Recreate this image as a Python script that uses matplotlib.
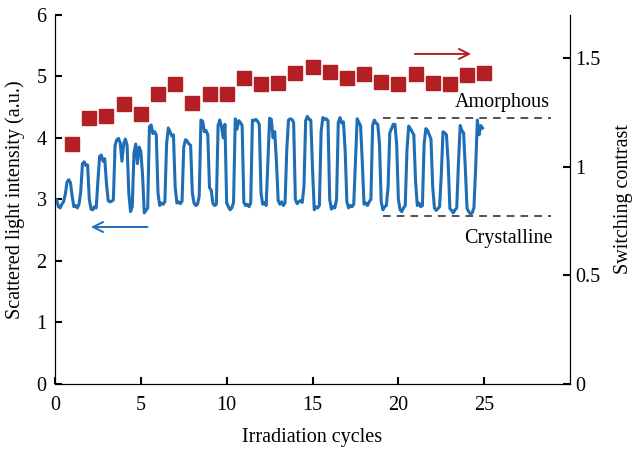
import numpy as np
import matplotlib
matplotlib.use("Agg")
import matplotlib.pyplot as plt

plt.rcParams['font.family'] = ['Liberation Serif', 'DejaVu Serif']

# switching contrast per irradiation cycle (right axis)
cycles = [1, 2, 3, 4, 5, 6, 7, 8, 9, 10, 11, 12, 13, 14, 15, 16, 17, 18, 19, 20, 21, 22, 23, 24, 25]
contrast = [1.105, 1.227, 1.234, 1.289, 1.243, 1.335, 1.381, 1.294, 1.335, 1.336,
            1.409, 1.381, 1.386, 1.432, 1.462, 1.439, 1.409, 1.429, 1.390, 1.382,
            1.429, 1.387, 1.382, 1.421, 1.432]

# scattered light intensity, sampled every 0.1 cycle from 0.1 to 24.9 (left axis)
intensity = [
    2.99, 2.88, 2.86, 2.92, 2.96, 3.08, 3.28, 3.32, 3.27,
    3.05, 2.88, 2.90, 2.86, 2.92, 3.12, 3.58, 3.61, 3.55, 3.56,
    3.00, 2.84, 2.83, 2.88, 2.86, 3.30, 3.70, 3.72, 3.62, 3.66,
    3.25, 2.98, 2.96, 2.97, 2.99, 3.88, 3.97, 3.99, 3.92, 3.62,
    3.90, 3.98, 3.88, 3.10, 2.80, 2.88, 3.75, 3.90, 3.58, 3.85,
    3.78, 3.40, 2.78, 2.82, 2.86, 4.18, 4.21, 4.07, 4.10, 4.05,
    3.10, 2.90, 2.94, 2.92, 2.96, 3.90, 4.16, 4.10, 4.03, 4.05,
    3.20, 2.94, 2.96, 2.93, 2.97, 3.85, 3.97, 3.95, 3.90, 3.88,
    3.10, 2.94, 2.90, 2.92, 3.05, 4.29, 4.27, 4.10, 4.12, 4.05,
    3.19, 3.15, 2.93, 2.90, 2.92, 4.20, 4.29, 4.18, 4.00, 4.22,
    2.94, 2.88, 2.83, 2.86, 2.95, 4.31, 4.14, 4.28, 4.25, 4.20,
    2.95, 2.90, 2.92, 2.88, 2.94, 4.29, 4.28, 4.30, 4.27, 4.22,
    3.10, 2.92, 2.95, 2.90, 3.60, 4.32, 4.30, 4.00, 4.10, 3.60,
    2.98, 2.92, 2.96, 2.90, 2.94, 3.80, 4.29, 4.31, 4.30, 4.25,
    3.00, 2.93, 2.96, 2.98, 2.95, 3.20, 4.28, 4.35, 4.30, 4.29,
    3.50, 2.83, 2.88, 2.86, 2.90, 4.10, 4.33, 4.30, 4.31, 4.28,
    3.00, 2.84, 2.88, 2.86, 3.00, 4.25, 4.33, 4.24, 4.26, 3.80,
    2.96, 2.86, 2.90, 2.88, 2.92, 3.60, 4.31, 4.25, 4.20, 3.60,
    2.92, 2.94, 2.90, 2.96, 3.00, 4.20, 4.29, 4.24, 4.22, 3.90,
    2.96, 2.83, 2.88, 2.90, 3.20, 4.08, 4.15, 4.22, 4.22, 3.90,
    3.00, 2.83, 2.80, 2.86, 2.90, 3.80, 4.19, 4.15, 4.10, 4.05,
    3.30, 2.90, 2.94, 2.88, 2.90, 3.90, 4.15, 4.12, 4.05, 3.98,
    3.20, 2.86, 2.82, 2.85, 2.88, 3.40, 4.10, 4.08, 4.05, 3.60,
    2.85, 2.82, 2.78, 2.83, 2.86, 3.60, 4.20, 4.12, 4.08, 3.50,
    2.85, 2.80, 2.76, 2.78, 2.86, 3.50, 4.29, 4.05, 4.20, 4.16,
]
time = np.arange(1, len(intensity) + 1) / 10.0

amorphous_level = 4.32
crystalline_level = 2.73
level_span = [19.1, 28.9]

blue = '#1f6db5'
red = '#b41f24'
fs = 14.5

fig = plt.figure(figsize=(6.32, 4.51), dpi=100)
ax = fig.add_axes([0.087, 0.149, 0.815, 0.818])
ax2 = ax.twinx()

ax.plot(time, intensity, color=blue, lw=2.2, zorder=3)
ax.plot(level_span, [amorphous_level] * 2, color='#222222', ls=(0, (5, 4)), lw=1.1)
ax.plot(level_span, [crystalline_level] * 2, color='#222222', ls=(0, (5, 4)), lw=1.1)
ax.text(28.8, 4.57, 'Amorphous', ha='right', va='center', fontsize=fs)
ax.text(29.0, 2.37, 'Crystalline', ha='right', va='center', fontsize=fs)
ax.annotate('', xy=(1.93, 2.55), xytext=(5.55, 2.55),
            arrowprops=dict(arrowstyle='->', color=blue, lw=1.4, mutation_scale=18))

ax2.plot(cycles, contrast, ls='none', marker='s', ms=9.5, color=red, mec=red)
ax2.annotate('', xy=(24.4, 1.52), xytext=(20.8, 1.52),
             arrowprops=dict(arrowstyle='->', color=red, lw=1.4, mutation_scale=18))

ax.set_xlim(0, 30)
ax.set_ylim(0, 6)
ax2.set_ylim(0, 1.7)
ax.set_xticks([0, 5, 10, 15, 20, 25])
ax.set_yticks([0, 1, 2, 3, 4, 5, 6])
ax2.set_yticks([0, 0.5, 1, 1.5])
ax2.set_yticklabels(['0', '0.5', '1', '1.5'])

for a in (ax, ax2):
    a.spines['top'].set_visible(False)
    a.tick_params(direction='in', length=5, width=1.5, labelsize=fs)
ax.tick_params(axis='x', pad=9)
ax.tick_params(axis='y', pad=6)

ax.set_xlabel('Irradiation cycles', fontsize=fs, labelpad=9)
ax.set_ylabel('Scattered light intensity (a.u.)', fontsize=fs, labelpad=8)
ax2.set_ylabel('Switching contrast', fontsize=fs, labelpad=10)

fig.savefig('out.png', dpi=100)
